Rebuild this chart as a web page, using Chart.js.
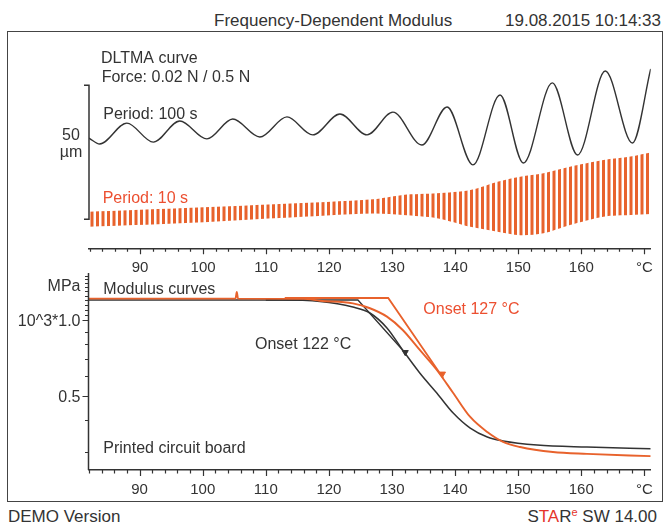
<!DOCTYPE html>
<html lang="en">
<head>
<meta charset="UTF-8" />
<title>Frequency-Dependent Modulus</title>
<script src="https://cdn.jsdelivr.net/npm/chart.js"></script>
<style>
  html, body { margin: 0; padding: 0; background: #fff; }
  body { width: 664px; height: 524px; position: relative; overflow: hidden;
         font-family: "Liberation Sans", Arial, sans-serif; color: #333; }
  .txt { position: absolute; white-space: nowrap; font-size: 17px; line-height: 17px; }
  .red { color: #e5342b; }
  sup { font-size: 11px; vertical-align: 6px; line-height: 0; }
  #frame { position: absolute; left: 7.25px; top: 31.25px; width: 655.5px; height: 471px;
           border: 1.5px solid #444; box-sizing: border-box; }
  canvas { position: absolute; }
</style>
</head>
<body>
  <div class="txt" style="left:214px; top:11.6px;">Frequency-Dependent Modulus</div>
  <div class="txt" style="right:3px; top:11.6px;">19.08.2015 10:14:33</div>
  <div id="frame"></div>
  <canvas id="dltma" width="654" height="252" style="left:8px; top:33px;"></canvas>
  <canvas id="modulus" width="654" height="238" style="left:8px; top:262px;"></canvas>
  <div class="txt" style="left:8px; top:507.6px;">DEMO Version</div>
  <div class="txt" style="right:7px; top:507.6px;">S<span class="red">TA</span>R<sup class="red">e</sup> SW 14.00</div>

<script>
  const FONT = '"Liberation Sans", Arial, sans-serif';
  const DARK = '#333';
  const ORANGE = '#e8622c';
  const RED_TEXT = '#ec4f30';

  // temperature axis, °C
  const tempTicks = [90, 100, 110, 120, 130, 140, 150, 160, 170];
  const tempMin = 81.9, tempMax = 171;

  // DLTMA curve, period 100 s (peaks and troughs), µm
  const wave100T  = [81.9, 83.6, 87.9, 92.1, 96.3, 100.6, 104.7, 109.0, 113.3, 117.4, 121.7, 126.0,
                     130.1, 134.7, 138.7, 142.8, 147.1, 150.8, 155.4, 159.4, 163.8, 168.1, 171.0];
  const wave100Um = [30.3, 28.1, 35.9, 28.8, 36.7, 30.0, 37.4, 30.7, 38.2, 31.5, 39.3, 31.5,
                     40.0, 27.7, 41.9, 20.3, 46.4, 21.0, 50.9, 24.0, 55.3, 28.5, 56.1];

  // DLTMA curve, period 10 s: envelope of the oscillation, µm
  const wave10T     = [81.9, 96.3, 112.2, 127.0, 131.7, 137.1, 142.4, 146.7, 150.3, 154.0, 158.2, 163.5, 167.8, 171.0];
  const wave10Upper = [2.8, 4.1, 5.7, 7.5, 9.1, 9.7, 10.9, 14.0, 15.9, 17.2, 19.6, 22.1, 23.4, 24.9];
  const wave10Lower = [-2.8, -1.5, 0.5, 2.2, 1.6, 0.4, -2.8, -4.6, -5.9, -5.2, -2.1, 1.0, 1.6, 2.0];

  // modulus curves, 10^3 MPa
  const modBlackT = [81.9, 112.0, 118.6, 123.8, 126.5, 129.2, 131.7, 134.4, 137.1, 139.7, 142.4, 145.1, 147.6, 153.0, 160.9, 171.0];
  const modBlack  = [1.20, 1.20, 1.185, 1.126, 1.066, 0.930, 0.760, 0.617, 0.514, 0.428, 0.373, 0.344, 0.332, 0.320, 0.314, 0.309];
  const modOrangeT = [81.9, 105.2, 105.4, 105.6, 116.0, 118.6, 123.8, 126.5, 129.2, 131.7, 134.4, 137.1, 139.7,
                      142.4, 145.1, 147.6, 150.3, 155.5, 160.9, 171.0];
  const modOrange  = [1.215, 1.215, 1.29, 1.215, 1.212, 1.192, 1.164, 1.113, 1.031, 0.913, 0.761, 0.634, 0.514,
                      0.413, 0.360, 0.329, 0.314, 0.300, 0.295, 0.289];

  // onset tangents
  const onsetBlackT = [110.0, 124.6, 132.1];
  const onsetBlack  = [1.20, 1.20, 0.740];
  const onsetOrangeT = [113.0, 129.4, 138.1];
  const onsetOrange  = [1.222, 1.222, 0.589];

  // arrow marks on the curves
  const markBlack = { t: 132.1, v: 0.745 };
  const markOrange = { t: 138.0, v: 0.612 };

  // modulus axis (log)
  const modMin = 0.2547, modMax = 1.535;
  const modTicks = [0.3, 0.4, 0.5, 0.6, 0.7, 0.8, 0.9, 1.0, 1.05, 1.1, 1.15, 1.2, 1.25, 1.3, 1.35, 1.4, 1.45, 1.5];
  const modLabels = [[1.0, '10^3*1.0'], [0.5, '0.5'], [1.376, 'MPa']];

  const pts = (xs, ys) => xs.map((x, i) => ({ x, y: ys[i] }));

  function stripes(color) {
    const c = document.createElement('canvas');
    c.width = 11; c.height = 4;
    const g = c.getContext('2d');
    g.fillStyle = color;
    g.fillRect(0, 0, 3, 4);
    g.fillRect(5.5, 0, 3, 4);
    return document.getElementById('dltma').getContext('2d').createPattern(c, 'repeat');
  }

  function text(ctx, s, x, y, color, align) {
    ctx.save();
    ctx.font = '16px ' + FONT;
    ctx.fillStyle = color || DARK;
    ctx.textAlign = align || 'left';
    ctx.textBaseline = 'alphabetic';
    ctx.fillText(s, x, y);
    ctx.restore();
  }

  function tempTickMarks(chart) {
    const { ctx, chartArea } = chart;
    const xs = chart.scales.x;
    ctx.save();
    ctx.strokeStyle = DARK;
    ctx.lineWidth = 1.2;
    ctx.beginPath();
    for (let t = 82; t <= 170; t += 2) {
      const px = Math.round(xs.getPixelForValue(t)) + 0.5;
      const len = t % 10 === 0 ? 6 : 3.5;
      ctx.moveTo(px, chartArea.bottom);
      ctx.lineTo(px, chartArea.bottom + len);
    }
    ctx.stroke();
    ctx.restore();
  }

  function tempAxis(height) {
    return {
      type: 'linear', min: tempMin, max: tempMax,
      afterBuildTicks: s => { s.ticks = tempTicks.map(v => ({ value: v })); },
      afterFit: s => { s.height = height; },
      ticks: {
        callback: v => v === 170 ? '°C' : String(v),
        font: { size: 15, family: FONT }, color: DARK,
        padding: 3, maxRotation: 0, autoSkip: false
      },
      grid: { display: false },
      border: { display: true, color: DARK, width: 1.5 }
    };
  }

  const common = {
    animation: false, responsive: false, events: [],
    plugins: { legend: { display: false }, tooltip: { enabled: false } }
  };

  const dltmaDecor = {
    id: 'dltmaDecor',
    afterDraw(chart) {
      const { ctx, chartArea } = chart;
      const ys = chart.scales.y;
      const L = chartArea.left;
      const y0 = ys.getPixelForValue(0), y1 = ys.getPixelForValue(50);
      ctx.save();
      ctx.strokeStyle = DARK;
      ctx.lineWidth = 1.5;
      ctx.beginPath();
      ctx.moveTo(L - 5, y1); ctx.lineTo(L, y1);
      ctx.lineTo(L, y0); ctx.lineTo(L - 5, y0);
      ctx.stroke();
      ctx.restore();
      text(ctx, '50', L - 18, 106.7, DARK, 'center');
      text(ctx, 'µm', L - 18, 124, DARK, 'center');
      tempTickMarks(chart);
      text(ctx, 'DLTMA curve', L + 12, 30.2);
      text(ctx, 'Force: 0.02 N / 0.5 N', L + 12.7, 48.7);
      text(ctx, 'Period: 100 s', L + 14.3, 85.5);
      text(ctx, 'Period: 10 s', L + 13.7, 170.3, RED_TEXT);
    }
  };

  new Chart(document.getElementById('dltma'), {
    type: 'line',
    data: {
      datasets: [
        { data: pts(wave10T, wave10Upper), borderWidth: 0, pointRadius: 0, fill: '+1',
          backgroundColor: stripes(ORANGE), tension: 0.3 },
        { data: pts(wave10T, wave10Lower), borderWidth: 0, pointRadius: 0, fill: false, tension: 0.3 },
        { data: pts(wave100T, wave100Um), borderColor: DARK, borderWidth: 1.4, pointRadius: 0,
          cubicInterpolationMode: 'monotone', fill: false }
      ]
    },
    options: {
      ...common,
      layout: { padding: { left: 81, right: 11.3, top: 0, bottom: 0 } },
      scales: {
        x: tempAxis(36.7),
        y: { type: 'linear', min: -10.8, max: 69.5, display: false }
      }
    },
    plugins: [dltmaDecor]
  });

  const modulusDecor = {
    id: 'modulusDecor',
    afterDraw(chart) {
      const { ctx, chartArea } = chart;
      const ys = chart.scales.y;
      const L = chartArea.left;
      ctx.save();
      ctx.strokeStyle = DARK;
      ctx.lineWidth = 1.5;
      ctx.beginPath();
      ctx.moveTo(L, chartArea.top); ctx.lineTo(L, chartArea.bottom);
      ctx.stroke();
      ctx.lineWidth = 1.2;
      ctx.beginPath();
      modTicks.forEach(v => {
        const py = Math.round(ys.getPixelForValue(v)) + 0.5;
        const len = (v === 1.0 || v === 0.5) ? 6 : 3.5;
        ctx.moveTo(L - len, py); ctx.lineTo(L, py);
      });
      ctx.stroke();
      ctx.restore();
      modLabels.forEach(([v, s]) => text(ctx, s, L - 8, ys.getPixelForValue(v) + 5.7, DARK, 'right'));
      tempTickMarks(chart);
      text(ctx, 'Modulus curves', L + 14.8, 32);
      text(ctx, 'Onset 122 °C', L + 166.5, 87.3);
      text(ctx, 'Onset 127 °C', L + 334.8, 52.3, RED_TEXT);
      text(ctx, 'Printed circuit board', L + 14.8, 191.3);
    }
  };

  new Chart(document.getElementById('modulus'), {
    type: 'line',
    data: {
      datasets: [
        { data: pts(onsetOrangeT, onsetOrange), borderColor: ORANGE, borderWidth: 1.8, pointRadius: 0, fill: false },
        { data: pts(modOrangeT, modOrange), borderColor: ORANGE, borderWidth: 1.9, pointRadius: 0,
          cubicInterpolationMode: 'monotone', fill: false },
        { data: pts(onsetBlackT, onsetBlack), borderColor: DARK, borderWidth: 1.3, pointRadius: 0, fill: false },
        { data: pts(modBlackT, modBlack), borderColor: DARK, borderWidth: 1.5, pointRadius: 0,
          cubicInterpolationMode: 'monotone', fill: false },
        { data: [{ x: markBlack.t, y: markBlack.v }], showLine: false, pointStyle: 'triangle', rotation: 180,
          pointRadius: 3.5, backgroundColor: DARK, borderColor: DARK, borderWidth: 1 },
        { data: [{ x: markOrange.t, y: markOrange.v }], showLine: false, pointStyle: 'triangle', rotation: 180,
          pointRadius: 3.5, backgroundColor: ORANGE, borderColor: ORANGE, borderWidth: 1 }
      ]
    },
    options: {
      ...common,
      layout: { padding: { left: 80.5, right: 11.3, top: 11, bottom: 0 } },
      scales: {
        x: tempAxis(30),
        y: { type: 'logarithmic', min: modMin, max: modMax, display: false }
      }
    },
    plugins: [modulusDecor]
  });
</script>
</body>
</html>
